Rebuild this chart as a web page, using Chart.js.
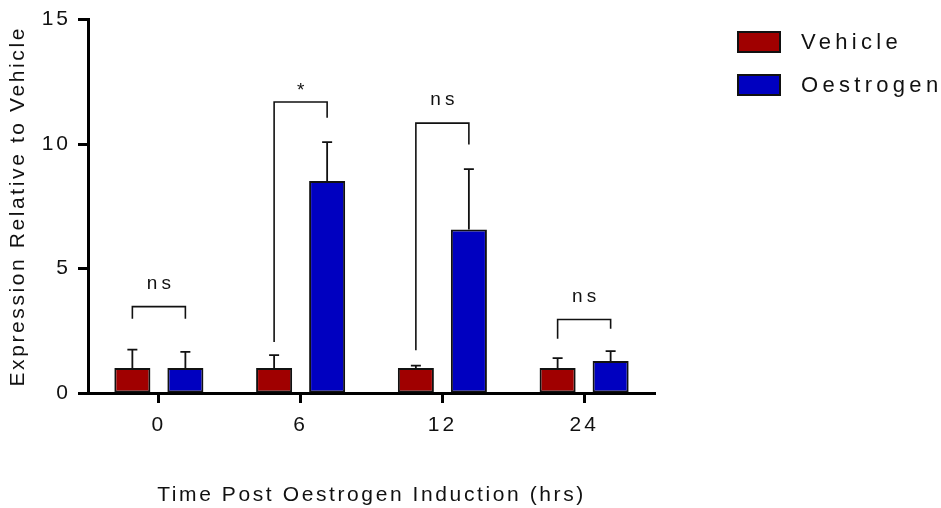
<!DOCTYPE html>
<html>
<head>
<meta charset="utf-8">
<script src="https://cdn.jsdelivr.net/npm/chart.js@4.4.1/dist/chart.umd.min.js"></script>
<style>
  html, body { margin: 0; padding: 0; background: #fff; }
  #chart { display: block; }
</style>
</head>
<body>
<canvas id="chart" width="941" height="508"></canvas>
<script>
// time points (hrs)
const timePoints = ['0', '6', '12', '24'];

// mean expression and SEM per group
const vehicleMean = [1.0, 1.0, 1.0, 1.0];
const vehicleSem = [0.74, 0.52, 0.1, 0.4];
const oestrogenMean = [1.0, 8.52, 6.57, 1.29];
const oestrogenSem = [0.65, 1.56, 2.42, 0.39];

// significance brackets: bar height and where each leg stops
const bracketTop = [3.47, 11.69, 10.84, 2.95];
const bracketLeftEnd = [2.98, 2.05, 1.72, 2.18];
const bracketRightEnd = [2.98, 11.06, 9.98, 2.58];
const bracketLabels = ['ns', '*', 'ns', 'ns'];

const yTicks = [0, 5, 10, 15];

const FONT = "'Liberation Sans', Arial, Helvetica, sans-serif";
const SPACING = '3px';
const TITLE_SPACING = '2.6px';

const spacingPlugin = {
  id: 'spacing',
  beforeLayout(chart) { chart.ctx.letterSpacing = SPACING; },
  beforeDraw(chart) { chart.ctx.letterSpacing = SPACING; }
};

// titles are drawn with slightly tighter spacing than tick labels
const titleSpacingPlugin = {
  id: 'titleSpacing',
  beforeDraw(chart) {
    const { ctx } = chart;
    ['x', 'y'].forEach(id => {
      const scale = chart.scales[id];
      if (scale._titleWrapped) return;
      const orig = scale.drawTitle.bind(scale);
      scale.drawTitle = function () {
        ctx.save();
        ctx.letterSpacing = TITLE_SPACING;
        orig();
        ctx.restore();
      };
      scale._titleWrapped = true;
    });
  }
};

const errorBarPlugin = {
  id: 'errorBars',
  afterDatasetsDraw(chart) {
    const { ctx, scales: { y } } = chart;
    ctx.save();
    ctx.strokeStyle = '#111';
    ctx.lineWidth = 1.8;
    chart.data.datasets.forEach((ds, di) => {
      const meta = chart.getDatasetMeta(di);
      meta.data.forEach((bar, i) => {
        const top = y.getPixelForValue(ds.data[i] + ds.sem[i]);
        ctx.beginPath();
        ctx.moveTo(bar.x, bar.y);
        ctx.lineTo(bar.x, top);
        ctx.moveTo(bar.x - 5, top);
        ctx.lineTo(bar.x + 5, top);
        ctx.stroke();
      });
    });
    ctx.restore();
  }
};

const bracketPlugin = {
  id: 'brackets',
  afterDatasetsDraw(chart) {
    const { ctx, scales: { y } } = chart;
    const left = chart.getDatasetMeta(0).data;
    const right = chart.getDatasetMeta(1).data;
    ctx.save();
    ctx.strokeStyle = '#111';
    ctx.lineWidth = 1.6;
    ctx.fillStyle = '#111';
    ctx.font = '19px ' + FONT;
    ctx.letterSpacing = '4px';
    ctx.textAlign = 'center';
    ctx.textBaseline = 'alphabetic';
    timePoints.forEach((t, i) => {
      const x1 = left[i].x, x2 = right[i].x;
      const yTop = y.getPixelForValue(bracketTop[i]);
      ctx.beginPath();
      ctx.moveTo(x1, y.getPixelForValue(bracketLeftEnd[i]));
      ctx.lineTo(x1, yTop);
      ctx.lineTo(x2, yTop);
      ctx.lineTo(x2, y.getPixelForValue(bracketRightEnd[i]));
      ctx.stroke();
      const gap = bracketLabels[i] === '*' ? 6 : 18;
      ctx.fillText(bracketLabels[i], (x1 + x2) / 2 + 2, yTop - gap);
    });
    ctx.restore();
  }
};

const legendPlugin = {
  id: 'sideLegend',
  afterDraw(chart) {
    const { ctx } = chart;
    ctx.save();
    ctx.font = '22px ' + FONT;
    ctx.letterSpacing = '4.3px';
    ctx.textAlign = 'left';
    ctx.textBaseline = 'middle';
    chart.data.datasets.forEach((ds, i) => {
      const top = 32 + i * 43;
      ctx.fillStyle = ds.backgroundColor;
      ctx.fillRect(738, top, 42, 20);
      ctx.strokeStyle = '#111';
      ctx.lineWidth = 2;
      ctx.strokeRect(738, top, 42, 20);
      ctx.fillStyle = '#111';
      ctx.fillText(ds.label, 801, top + 11);
    });
    ctx.restore();
  }
};

new Chart(document.getElementById('chart'), {
  type: 'bar',
  data: {
    labels: timePoints,
    datasets: [
      {
        label: 'Vehicle',
        data: vehicleMean,
        sem: vehicleSem,
        backgroundColor: '#a00000',
        borderColor: '#111',
        borderWidth: 2,
        borderSkipped: false
      },
      {
        label: 'Oestrogen',
        data: oestrogenMean,
        sem: oestrogenSem,
        backgroundColor: '#0000c0',
        borderColor: '#111',
        borderWidth: 2,
        borderSkipped: false
      }
    ]
  },
  options: {
    responsive: false,
    animation: false,
    devicePixelRatio: 1,
    categoryPercentage: 0.748,
    barPercentage: 0.68,
    layout: { padding: { top: 16, right: 286, left: 0, bottom: 0 } },
    plugins: {
      legend: { display: false },
      tooltip: { enabled: false }
    },
    scales: {
      x: {
        afterFit(scale) { scale.height = 115; },
        grid: {
          offset: false,
          drawOnChartArea: false,
          tickLength: 10,
          tickWidth: 3,
          tickColor: '#000'
        },
        border: { color: '#000', width: 3 },
        ticks: {
          color: '#111',
          padding: 10,
          font: { family: FONT, size: 21 }
        },
        title: {
          display: true,
          text: 'Time Post Oestrogen Induction (hrs)',
          color: '#111',
          font: { family: FONT, size: 21 },
          padding: { top: 0, bottom: 0 }
        }
      },
      y: {
        min: 0,
        max: 15,
        afterFit(scale) { scale.width = 88; },
        afterBuildTicks(scale) { scale.ticks = yTicks.map(v => ({ value: v })); },
        grid: {
          drawOnChartArea: false,
          tickLength: 10,
          tickWidth: 3,
          tickColor: '#000'
        },
        border: { color: '#000', width: 3 },
        ticks: {
          color: '#111',
          padding: 7,
          font: { family: FONT, size: 21 }
        },
        title: {
          display: true,
          text: 'Expression Relative to Vehicle',
          color: '#111',
          font: { family: FONT, size: 21 },
          padding: { top: 6, bottom: 0 }
        }
      }
    }
  },
  plugins: [spacingPlugin, titleSpacingPlugin, errorBarPlugin, bracketPlugin, legendPlugin]
});
</script>
</body>
</html>
